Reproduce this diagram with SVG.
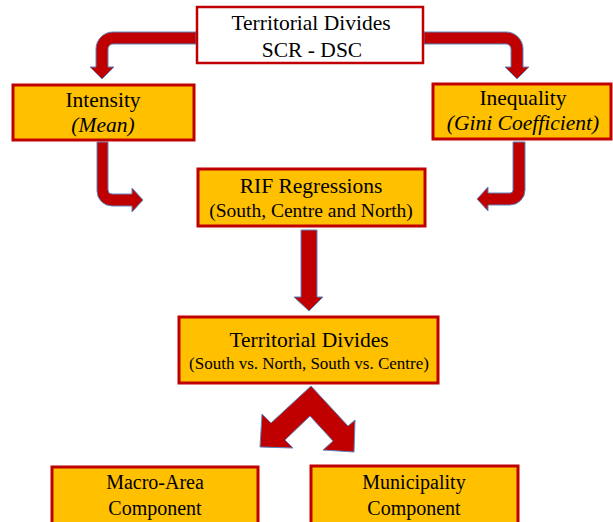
<svg xmlns="http://www.w3.org/2000/svg" width="613" height="522" viewBox="0 0 613 522">
<style>
.box{fill:#FFC000;stroke:#C00000;stroke-width:3}
.wbox{fill:#FFFFFF;stroke:#C00000;stroke-width:2.5}
.arr{fill:#C00000;stroke:#5B87BE;stroke-width:1;stroke-linejoin:miter}
text{font-family:"Liberation Serif","Times New Roman",serif;fill:#000;text-anchor:middle}
.m{font-size:21.5px}
.s{font-size:19.5px}
.s2{font-size:17px}
.b{font-size:20px}
.i{font-style:italic}
</style>
<rect width="613" height="522" fill="#FFFFFF"/>
<g id="connectors">
<path class="arr" d="M196,32 L113,32 A17,17 0 0 0 96,49 L96,67 L90,67 L102,79 L114,67 L108,67 L108,49 A5,5 0 0 1 113,44 L196,44 Z"/>
<path class="arr" d="M424,32 L506,32 A17,17 0 0 1 523,49 L523,67 L529,67 L517,79 L505,67 L511,67 L511,49 A5,5 0 0 0 506,44 L424,44 Z"/>
<path class="arr" d="M97,142 L97,191 A15,15 0 0 0 112,206 L132,206 L132,212 L143,200 L132,188 L132,194 L112,194 A4,4 0 0 1 108,190 L108,142 Z"/>
<path class="arr" d="M525,142 L525,190 A15,15 0 0 1 510,205 L488,205 L488,211 L477,199 L488,187 L488,193 L510,193 A3,3 0 0 0 513,190 L513,142 Z"/>
<path class="arr" d="M301,230 L317,230 L317,297 L323,297 L309,311 L294,297 L301,297 Z"/>
<path class="arr" d="M311,386 L271,423 L262,414 L260,447 L293,448 L285,440 L310,416 L333,441 L323,450 L354,452 L355,420 L348,426 Z"/>
</g>
<g id="top">
<rect class="wbox" x="197" y="7" width="226" height="56"/>
<text class="m" x="311" y="30">Territorial Divides</text>
<text class="m" x="312" y="57">SCR - DSC</text>
</g>
<g id="intensity">
<rect class="box" x="13" y="85" width="181" height="55"/>
<text class="m" x="103" y="107">Intensity</text>
<text class="m i" x="103" y="132">(Mean)</text>
</g>
<g id="inequality">
<rect class="box" x="433" y="84" width="178" height="55"/>
<text class="m" x="523" y="105">Inequality</text>
<text class="m i" x="523" y="130">(Gini Coefficient)</text>
</g>
<g id="rif">
<rect class="box" x="198" y="169" width="227" height="57"/>
<text class="m" x="311" y="193">RIF Regressions</text>
<text class="s" x="311" y="217">(South, Centre and North)</text>
</g>
<g id="divides">
<rect class="box" x="179" y="317" width="259" height="66"/>
<text class="m" x="309" y="347">Territorial Divides</text>
<text class="s2" x="309" y="369">(South vs. North, South vs. Centre)</text>
</g>
<g id="macro">
<rect class="box" x="52" y="467" width="206" height="62"/>
<text class="b" x="155" y="489">Macro-Area</text>
<text class="b" x="155" y="515">Component</text>
</g>
<g id="municipality">
<rect class="box" x="311" y="466" width="207" height="62"/>
<text class="b" x="414" y="489">Municipality</text>
<text class="b" x="414" y="515">Component</text>
</g>
</svg>
